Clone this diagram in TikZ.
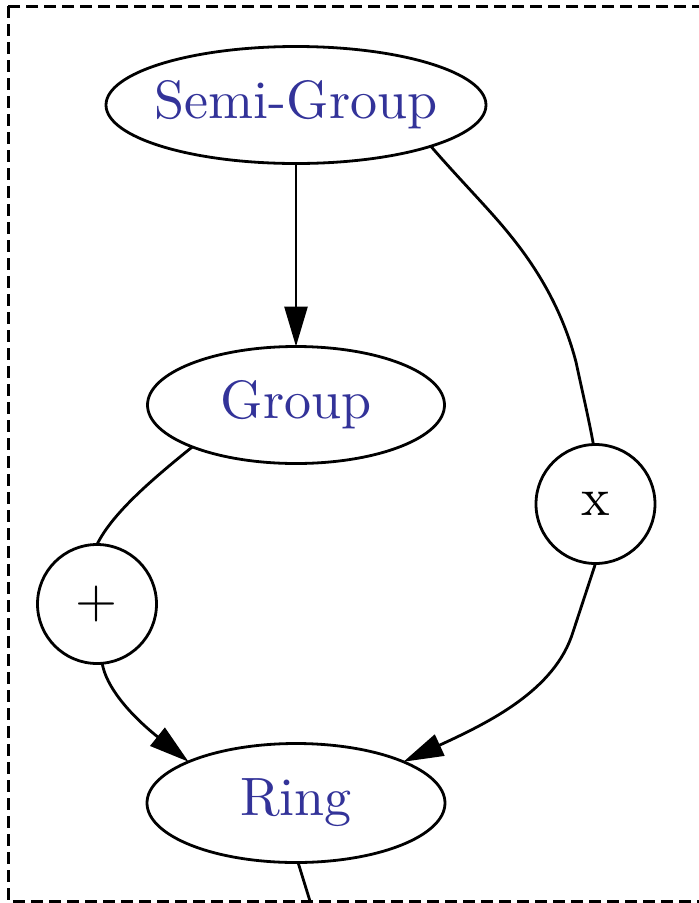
\documentclass[tikz,border=0pt]{standalone}
\usepackage{fontspec}
\setmainfont{lmroman10-regular.otf}
\usetikzlibrary{shapes.geometric,arrows.meta}
\definecolor{labelblue}{RGB}{51,51,153}
\newcommand{\flatlabel}[1]{\makebox[0pt]{#1}}
\begin{document}
\begin{tikzpicture}[x=1pt,y=-1pt,
  labelfont/.style={font=\fontsize{54}{60}\selectfont},
  concept/.style={ellipse, draw=black, line width=2.8pt, inner sep=0pt, outer sep=0pt,
    labelfont, text=labelblue},
  op/.style={circle, draw=black, line width=2.8pt, inner sep=0pt, outer sep=0pt,
    minimum size=119pt, labelfont, text=black},
  link/.style={draw=black, line width=2.8pt},
  tipped/.style={-{Triangle[length=40pt,width=23pt]}},
  cluster/.style={draw=black, line width=3pt, dash pattern=on 12pt off 6pt}
]
\useasboundingbox (0,0) rectangle (699,903);
\clip (0,0) rectangle (699,903);

% cluster frame
\draw[cluster] (8,6) rectangle (712,901);

% structures (labels kept out of the ellipse sizing)
\node[concept, minimum width=380pt, minimum height=117pt] (sg)   at (296,105) {\flatlabel{Semi-Group}};
\node[concept, minimum width=297pt, minimum height=117pt] (grp)  at (296,405) {\flatlabel{Group}};
\node[concept, minimum width=298pt, minimum height=119pt] (ring) at (296,803) {\flatlabel{Ring}};

% operations
\node[op] (plus)  at (97,604)    {+};
\node[op] (times) at (595.5,504) {x};

\coordinate (exit) at (311.5,906);

% edges
\draw[link, tipped] (sg) -- (grp);
\draw[link] (sg.-17) .. controls (460,180) and (490,210) .. (510,235)
  .. controls (545,278) and (565,320) .. (576,362)
  .. controls (582,390) and (589,420) .. (times.92);
\draw[link] (grp.202) .. controls (150,481) and (112,514) .. (plus.north);
\draw[link, tipped] (plus.-85) .. controls (106,686) and (128,713) .. (ring.159);
\draw[link, tipped] (times.south) -- (573,632) .. controls (555,690) and (490,722) .. (ring.21);
\draw[link] (ring.-88) -- (exit);
\end{tikzpicture}
\end{document}
